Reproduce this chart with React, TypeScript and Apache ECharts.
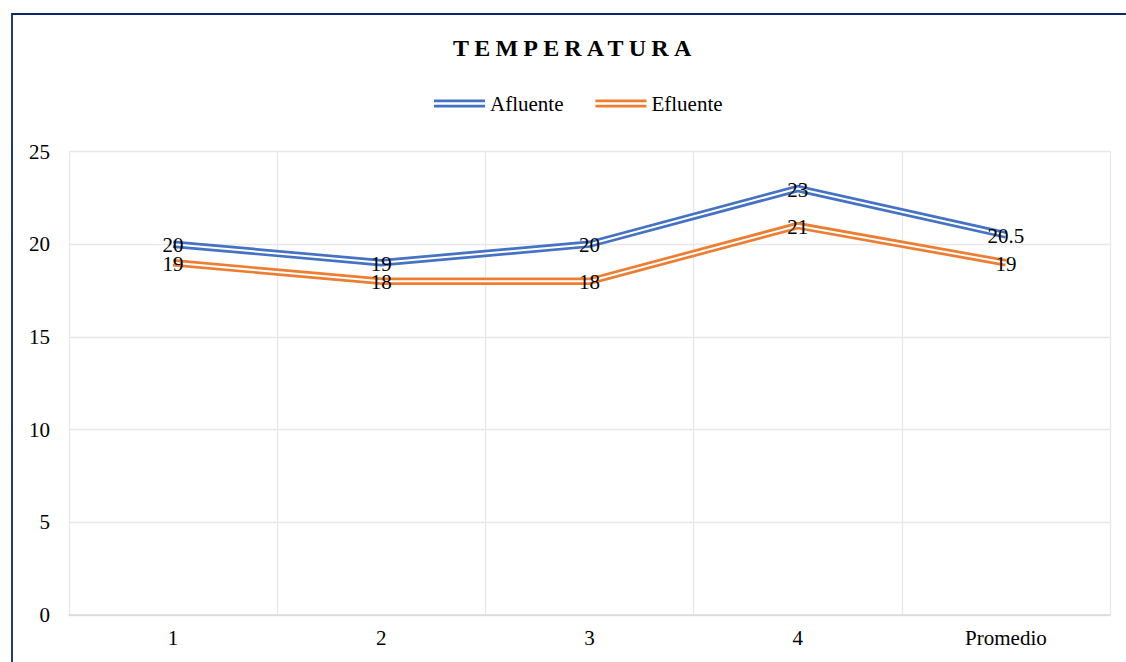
import React, { useEffect, useRef } from "react";
import * as echarts from "echarts";

const categories = ["1", "2", "3", "4", "Promedio"];
const afluente = [20, 19, 20, 23, 20.5];
const efluente = [19, 18, 18, 21, 19];
const yMin = 0;
const yMax = 25;
const yInterval = 5;

const FONT = '"Liberation Serif", "Times New Roman", serif';
const BLUE = "#4472C4";
const ORANGE = "#ED7D31";

export default function App() {
  const ref = useRef<HTMLDivElement>(null);
  useEffect(() => {
    if (!ref.current) return;
    const chart = echarts.init(ref.current, null, { renderer: "svg" });
    const outer = (name: string, data: number[], color: string) => ({
      name,
      type: "line",
      data,
      color,
      symbol: "circle",
      symbolSize: 0.01,
      silent: true,
      z: 2,
      lineStyle: { color, width: 7.4, join: "miter" },
      emphasis: { disabled: true },
    });
    const inner = (name: string, data: number[]) => ({
      name,
      type: "line",
      data,
      color: "#ffffff",
      symbol: "circle",
      symbolSize: 0.01,
      silent: true,
      z: 3,
      lineStyle: { color: "#ffffff", width: 2, join: "miter" },
      emphasis: { disabled: true },
      label: {
        show: true,
        position: "inside",
        offset: [0, 1],
        color: "#000",
        fontFamily: FONT,
        fontSize: 21,
      },
    });
    const icon = "path://M0,0H51V2.7H0Z M0,5.3H51V8H0Z";
    chart.setOption({
      animation: false,
      backgroundColor: "#ffffff",
      graphic: [
        {
          type: "rect",
          shape: { x: 12, y: 14, width: 3000, height: 3000 },
          style: { fill: "none", stroke: "#0B2768", lineWidth: 1.8 },
          silent: true,
        },
        {
          type: "text",
          left: 453,
          top: 36,
          style: {
            text: "TEMPERATURA",
            font: 'bold 24px "Liberation Serif", "Times New Roman", serif',
            fill: "#000",
          },
          silent: true,
        },
      ],
      legend: {
        data: [
          { name: "Afluente", icon },
          { name: "Efluente", icon },
        ],
        left: 429,
        top: 88,
        itemWidth: 51,
        itemHeight: 8,
        itemGap: 32,
        selectedMode: false,
        textStyle: { color: "#000", fontFamily: FONT, fontSize: 21 },
      },
      grid: { left: 69, right: 16, top: 151.5, bottom: 47 },
      xAxis: {
        type: "category",
        data: categories,
        boundaryGap: true,
        axisLine: { show: true, lineStyle: { color: "#d9d9d9", width: 1.5 } },
        axisTick: { show: false },
        axisLabel: { color: "#000", fontFamily: FONT, fontSize: 21, margin: 12 },
        splitLine: { show: true, lineStyle: { color: "#e8e8e8", width: 1.3 } },
      },
      yAxis: {
        type: "value",
        min: yMin,
        max: yMax,
        interval: yInterval,
        axisLine: { show: false },
        axisTick: { show: false },
        axisLabel: { color: "#000", fontFamily: FONT, fontSize: 21, margin: 19 },
        splitLine: { show: true, lineStyle: { color: "#e8e8e8", width: 1.3 } },
      },
      series: [
        outer("Afluente", afluente, BLUE),
        inner("Afluente_inner", afluente),
        outer("Efluente", efluente, ORANGE),
        inner("Efluente_inner", efluente),
      ],
    });
    const texts = ref.current.querySelectorAll("text");
    texts.forEach((t) => {
      if (t.textContent === "TEMPERATURA") {
        t.setAttribute("letter-spacing", "5.2");
        (t as SVGTextElement).style.letterSpacing = "5.2px";
      }
    });
    return () => chart.dispose();
  }, []);
  return (
    <div
      ref={ref}
      style={{ position: "fixed", left: 0, top: 0, width: 1126, height: 662 }}
    />
  );
}
